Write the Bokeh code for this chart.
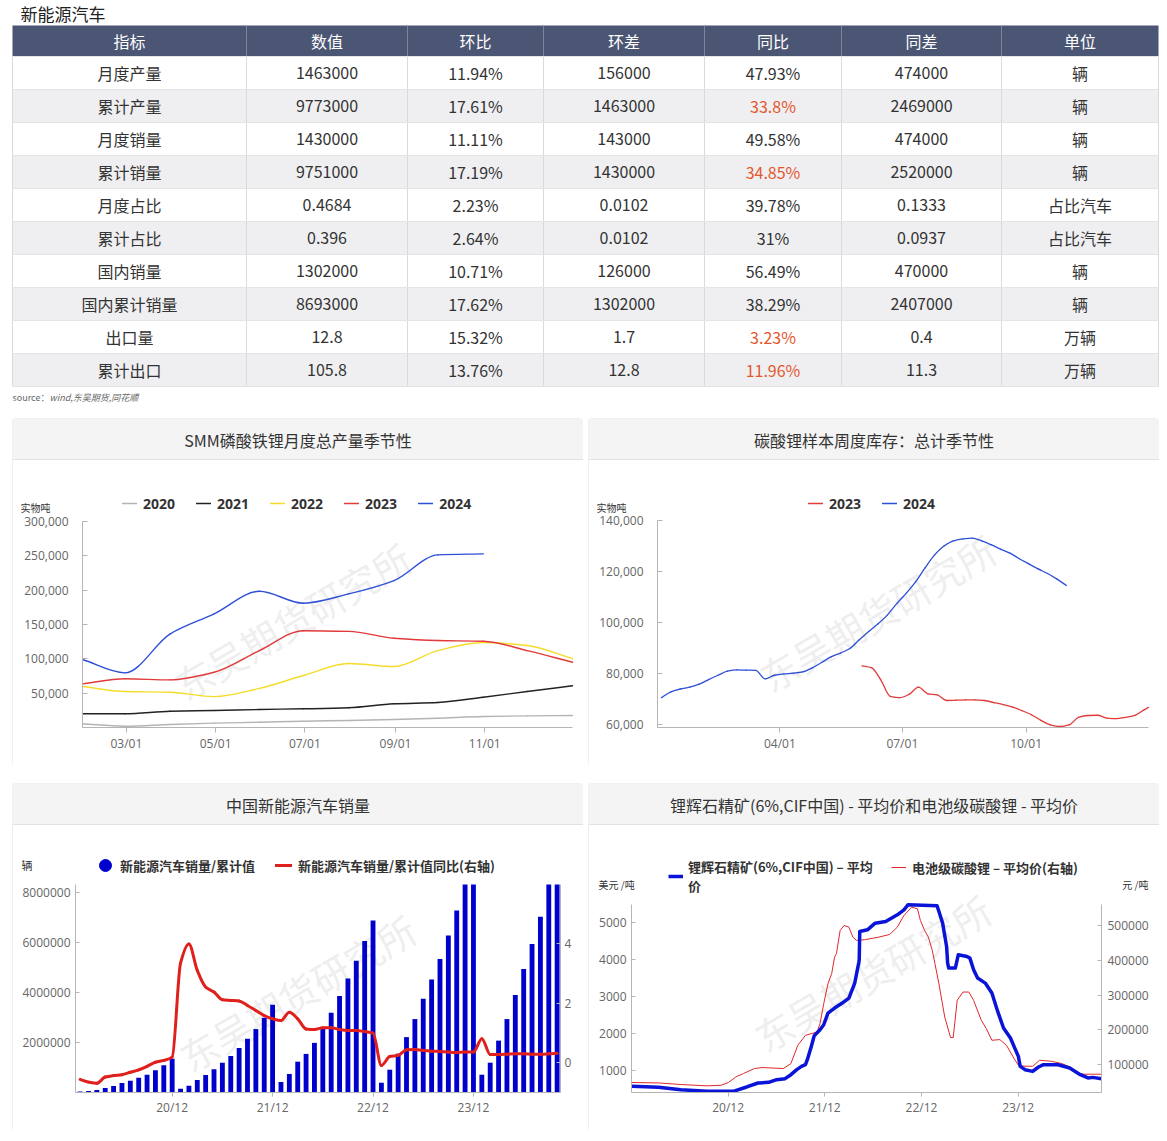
import numpy as np
import pandas as pd
from bokeh.plotting import figure
from bokeh.models import (Range1d, LinearAxis, FixedTicker, DatetimeTickFormatter,
                          NumeralTickFormatter, Legend, LegendItem, Spacer)
from bokeh.layouts import column, row
from bokeh.core.properties import value
from bokeh.embed import file_html
from bokeh.resources import INLINE

CJK = "Noto Sans CJK SC"
NUM = "Open Sans"

# ======================= DATA =======================
page_title = "新能源汽车"
table_headers = ["指标", "数值", "环比", "环差", "同比", "同差", "单位"]
row_names = ["月度产量", "累计产量", "月度销量", "累计销量", "月度占比", "累计占比",
             "国内销量", "国内累计销量", "出口量", "累计出口"]
col_value = ["1463000", "9773000", "1430000", "9751000", "0.4684", "0.396",
             "1302000", "8693000", "12.8", "105.8"]
col_mom = ["11.94%", "17.61%", "11.11%", "17.19%", "2.23%", "2.64%",
           "10.71%", "17.62%", "15.32%", "13.76%"]
col_mom_diff = ["156000", "1463000", "143000", "1430000", "0.0102", "0.0102",
                "126000", "1302000", "1.7", "12.8"]
col_yoy = ["47.93%", "33.8%", "49.58%", "34.85%", "39.78%", "31%",
           "56.49%", "38.29%", "3.23%", "11.96%"]
col_yoy_diff = ["474000", "2469000", "474000", "2520000", "0.1333", "0.0937",
                "470000", "2407000", "0.4", "11.3"]
col_unit = ["辆", "辆", "辆", "辆", "占比汽车", "占比汽车", "辆", "辆", "万辆", "万辆"]
yoy_flagged = [False, True, False, True, False, False, False, False, True, True]
source_label = "source："
source_names = "wind,东吴期货,同花顺"

# Chart 1: SMM LFP monthly production (t), seasonal
smm_title = "SMM磷酸铁锂月度总产量季节性"
smm_unit = "实物吨"
smm_month_end = ["01-31", "02-29", "03-31", "04-30", "05-31", "06-30",
                 "07-31", "08-31", "09-30", "10-31", "11-30", "12-31"]
smm_years = ["2020", "2021", "2022", "2023", "2024"]
smm_2020 = [5400, 1900, 4400, 6300, 7700, 9200, 10200, 11600, 13500, 16000, 17000, 17500]
smm_2021 = [20000, 20000, 23700, 24700, 26200, 27200, 28700, 34500, 36400, 44100, 52400, 60700]
smm_2022 = [59700, 52400, 51400, 45000, 57000, 75700, 93200, 88800, 112000, 123700, 119400, 100400]
smm_2023 = [63600, 70900, 69400, 80500, 112000, 141000, 140000, 130000, 126600, 125600, 112000, 95000]
smm_2024 = [99000, 79600, 136400, 165500, 198400, 181000, 194600, 214000, 251400, 252800]
smm_yticks = [50000, 100000, 150000, 200000, 250000, 300000]
smm_ticks = ["03-01", "05-01", "07-01", "09-01", "11-01"]

# Chart 2: Li2CO3 weekly sample inventory (t), seasonal
inv_title = "碳酸锂样本周度库存：总计季节性"
inv_unit = "实物吨"
inv_years = ["2023", "2024"]
inv_2024_dates = ["01-04", "01-11", "01-18", "01-25", "02-01", "02-08", "02-15", "02-22", "02-29",
                  "03-07", "03-14", "03-21", "03-28", "04-04", "04-11", "04-18", "04-25", "05-02",
                  "05-09", "05-16", "05-23", "05-30", "06-06", "06-13", "06-20", "06-27", "07-04",
                  "07-11", "07-18", "07-25", "08-01", "08-08", "08-15", "08-22", "08-29", "09-05",
                  "09-12", "09-19", "09-26", "10-03", "10-10", "10-17", "10-24", "10-31"]
inv_2024 = [70500, 72800, 73900, 74600, 75800, 77600, 79300, 80900, 81400, 81300, 81200, 77900,
            79300, 79800, 80100, 80600, 82200, 84300, 86500, 88000, 89800, 93200, 96500, 99500,
            103000, 107500, 111500, 116000, 121500, 126500, 130000, 132000, 132800, 133100,
            132000, 130500, 128800, 127200, 125000, 123000, 121000, 119200, 117000, 114500]
inv_2023_dates = ["06-01", "06-08", "06-15", "06-22", "06-29", "07-06", "07-13", "07-20", "07-27",
                  "08-03", "08-10", "08-17", "08-24", "08-31", "09-07", "09-14", "09-21", "09-28",
                  "10-05", "10-12", "10-19", "10-26", "11-02", "11-09", "11-16", "11-23", "11-30",
                  "12-07", "12-14", "12-21", "12-28", "12-31"]
inv_2023 = [83000, 82300, 77500, 71000, 70500, 71800, 74600, 72000, 71600, 69400, 69500, 69600,
            69600, 69400, 68600, 67800, 66800, 65400, 63800, 61600, 59800, 59200, 59800, 62800,
            63500, 63600, 62500, 62300, 62800, 63600, 65800, 66700]
inv_yticks = [60000, 80000, 100000, 120000, 140000]
inv_ticks = ["04-01", "07-01", "10-01"]

# Chart 3: China NEV sales, cumulative (vehicles) and cumulative YoY (right axis)
nev_title = "中国新能源汽车销量"
nev_unit = "辆"
nev_first_month = "2020-01"
nev_cum_sales = [40000, 60000, 100000, 180000, 260000, 380000, 470000, 590000, 710000, 890000, 1090000, 1350000,
                 150000, 270000, 500000, 700000, 930000, 1190000, 1460000, 1780000, 2140000, 2530000, 2980000, 3500000,
                 420000, 740000, 1230000, 1540000, 1980000, 2580000, 3180000, 3850000, 4550000, 5260000, 6050000, 6860000,
                 390000, 910000, 1550000, 2210000, 2930000, 3740000, 4510000, 5330000, 6260000, 7260000, 8300000, 9490000,
                 710000, 1190000, 2070000, 2930000, 3890000, 4930000, 5930000, 7010000, 8320000, 9750000]
nev_cum_yoy = [-0.56, -0.65, -0.69, -0.48, -0.43, -0.40, -0.32, -0.24, -0.12, 0.02, 0.08, 0.19,
               3.35, 4.00, 3.11, 2.55, 2.38, 2.12, 2.10, 2.08, 1.93, 1.76, 1.59, 1.48,
               1.42, 1.70, 1.48, 1.14, 1.12, 1.18, 1.18, 1.12, 1.09, 1.09, 1.05, 1.00,
               -0.09, 0.21, 0.25, 0.44, 0.45, 0.41, 0.39, 0.38, 0.36, 0.35, 0.36, 0.36,
               0.81, 0.28, 0.28, 0.29, 0.30, 0.30, 0.29, 0.29, 0.30, 0.32]
nev_yticks = [2000000, 4000000, 6000000, 8000000]
nev_yoy_ticks = [0, 2, 4]
nev_tick_months = ["2020-12", "2021-12", "2022-12", "2023-12"]
nev_tick_labels = ["20/12", "21/12", "22/12", "23/12"]
nev_series = ["新能源汽车销量/累计值", "新能源汽车销量/累计值同比(右轴)"]

# Chart 4: spodumene (USD/t, left) and battery-grade Li2CO3 (CNY/t, right)
px_title = "锂辉石精矿(6%,CIF中国) - 平均价和电池级碳酸锂 - 平均价"
px_unit_left = "美元 /吨"
px_unit_right = "元 /吨"
px_series = ["锂辉石精矿(6%,CIF中国) – 平均\n价", "电池级碳酸锂 – 平均价(右轴)"]
spod_dates = ["2020-01-02", "2020-04-12", "2020-07-05", "2020-10-12", "2021-01-19", "2021-03-11",
              "2021-04-23", "2021-06-02", "2021-07-02", "2021-08-03", "2021-08-25", "2021-09-16",
              "2021-10-04", "2021-10-19", "2021-10-26", "2021-11-10", "2021-11-21", "2021-12-13",
              "2021-12-27", "2022-01-12", "2022-02-06", "2022-03-07", "2022-04-01", "2022-04-23",
              "2022-05-08", "2022-05-10", "2022-05-12", "2022-06-10", "2022-07-09", "2022-08-18",
              "2022-10-01", "2022-10-26", "2022-11-10", "2023-02-28", "2023-03-07", "2023-03-21",
              "2023-04-05", "2023-04-09", "2023-04-13", "2023-05-08", "2023-05-19", "2023-06-21",
              "2023-07-02", "2023-07-16", "2023-07-31", "2023-08-29", "2023-09-23", "2023-10-15",
              "2023-11-06", "2023-12-02", "2024-01-01", "2024-01-08", "2024-01-26", "2024-02-24",
              "2024-03-17", "2024-04-05", "2024-05-30", "2024-07-13", "2024-08-22", "2024-09-20",
              "2024-10-08", "2024-11-10"]
spod_usd = [567, 545, 477, 431, 431, 550, 658, 675, 748, 775, 883, 1019, 1108, 1154, 1290, 1650,
            1940, 2103, 2238, 2555, 2690, 2827, 2962, 3368, 3911, 4000, 4767, 4813, 4994, 5038,
            5220, 5355, 5490, 5463, 5309, 4994, 4360, 3911, 3775, 3775, 4136, 4090, 4046, 3729,
            3504, 3368, 3097, 2599, 2149, 1878, 1379, 1108, 1019, 973, 1092, 1154, 1154, 1065,
            883, 794, 810, 775]
li_dates = ["2020-01-02", "2020-04-12", "2020-07-05", "2020-10-12", "2020-12-05", "2021-01-01",
            "2021-01-29", "2021-02-27", "2021-04-09", "2021-05-08", "2021-07-27", "2021-08-25",
            "2021-09-20", "2021-10-19", "2021-12-02", "2021-12-13", "2021-12-27", "2022-01-12",
            "2022-01-26", "2022-02-06", "2022-02-13", "2022-02-27", "2022-03-14", "2022-04-01",
            "2022-04-16", "2022-04-30", "2022-05-30", "2022-07-23", "2022-09-02", "2022-10-01",
            "2022-10-26", "2022-11-24", "2022-12-16", "2022-12-27", "2023-01-12", "2023-01-26",
            "2023-02-10", "2023-02-20", "2023-03-07", "2023-03-29", "2023-04-20", "2023-04-30",
            "2023-05-15", "2023-06-06", "2023-06-28", "2023-07-16", "2023-08-14", "2023-09-02",
            "2023-09-23", "2023-10-23", "2023-11-17", "2023-12-16", "2024-01-01", "2024-01-26",
            "2024-02-24", "2024-03-21", "2024-05-04", "2024-06-13", "2024-07-13", "2024-08-14",
            "2024-09-05", "2024-10-08", "2024-11-10"]
li_cny = [48700, 47500, 43000, 39000, 41000, 48700, 64700, 74500, 88800, 91700, 88800, 103000,
          155700, 184300, 193800, 217900, 275300, 332600, 361300, 408900, 418700, 485500, 499800,
          495000, 466300, 456800, 458800, 466300, 474000, 495000, 528500, 552300, 547700, 514200,
          485500, 466300, 428100, 390000, 332600, 236800, 177700, 177700, 284700, 308500, 308500,
          284700, 227400, 203600, 170000, 172000, 155700, 117500, 98300, 95400, 95400, 112600,
          109800, 103200, 93400, 74500, 72500, 72500, 72500]
px_yticks = [1000, 2000, 3000, 4000, 5000]
px_cny_ticks = [100000, 200000, 300000, 400000, 500000]
px_ticks = ["2020-12-31", "2021-12-31", "2022-12-31", "2023-12-31"]

watermark = "东吴期货研究所"

# ======================= HELPERS =======================
EPOCH = pd.Timestamp("1970-01-01")


def ms(strs):
    return np.asarray((pd.to_datetime(list(strs)) - EPOCH) / pd.Timedelta(milliseconds=1), dtype=float)


def ms1(s):
    return float((pd.Timestamp(s) - EPOCH) / pd.Timedelta(milliseconds=1))


def smooth(p, xs, ys, **kw):
    """Monotone cubic curve through the data points, drawn with Bokeh's bezier glyph."""
    xs = np.asarray(xs, dtype=float)
    ys = np.asarray(ys, dtype=float)
    h = np.diff(xs)
    d = np.diff(ys) / h
    n = len(xs)
    m = np.empty(n)
    m[0], m[-1] = d[0], d[-1]
    for i in range(1, n - 1):
        if d[i - 1] * d[i] <= 0:
            m[i] = 0.0
        else:
            w1 = 2 * h[i] + h[i - 1]
            w2 = h[i] + 2 * h[i - 1]
            m[i] = (w1 + w2) / (w1 / d[i - 1] + w2 / d[i])
    return p.bezier(x0=xs[:-1], y0=ys[:-1], x1=xs[1:], y1=ys[1:],
                    cx0=xs[:-1] + h / 3, cy0=ys[:-1] + m[:-1] * h / 3,
                    cx1=xs[1:] - h / 3, cy1=ys[1:] - m[1:] * h / 3, **kw)


def style_axis(ax, tick_in=0, tick_out=5, standoff=5, color="#b5b5b5"):
    ax.axis_line_color = color
    ax.major_tick_line_color = color
    ax.major_tick_in = tick_in
    ax.major_tick_out = tick_out
    ax.minor_tick_line_color = None
    ax.major_label_standoff = standoff
    ax.major_label_text_font = NUM
    ax.major_label_text_font_size = "12px"
    ax.major_label_text_color = "#666666"


def date_fmt(f):
    return DatetimeTickFormatter(days=f, months=f, years=f, hours=f, hourmin=f, minutes=f,
                                 minsec=f, seconds=f, milliseconds=f, microseconds=f)


PW, PH = 571, 349   # panel size in pixels
PX = dict(x_range_name="px", y_range_name="px")


def ext(d0, d1, p0, p1, total):
    """Range whose values d0..d1 fall on pixels p0..p1 of a frame `total` px long."""
    s = (d1 - d0) / (p1 - p0)
    return Range1d(d0 - p0 * s, d1 + (total - p1) * s)


def make_panel(title, box, xr, yr, x_type="linear", extra_y=None):
    """One figure per panel; `box` = data area (left, top, right, bottom) in panel pixels."""
    L, T, R, B = box
    p = figure(width=PW, height=PH, x_axis_type=x_type,
               x_range=ext(xr[0], xr[1], L, R, PW), y_range=ext(yr[0], yr[1], PH - B, PH - T, PH),
               toolbar_location=None, output_backend="svg", min_border=0,
               outline_line_color=None, background_fill_color="white", border_fill_color="white",
               styles={"outline": "1px solid #dedede", "outline-offset": "-1px",
                       "border-radius": "4px"})
    p.xgrid.visible = False
    p.ygrid.visible = False
    p.extra_x_ranges = {"px": Range1d(0, PW)}
    eyr = {"px": Range1d(PH, 0)}
    for name, (a, b) in (extra_y or {}).items():
        eyr[name] = ext(a, b, PH - B, PH - T, PH)
    p.extra_y_ranges = eyr
    # header bar
    p.quad(left=[0], right=[PW], top=[0], bottom=[41], fill_color="#f4f4f4", line_color=None, **PX)
    p.segment(x0=[0], y0=[41], x1=[PW], y1=[41], line_color="#e2e2e2", line_width=1, **PX)
    p.text(x=[PW / 2], y=[21], text=[title], text_align="center", text_baseline="middle",
           text_font=value(CJK), text_font_size="16px", text_color="#333333", **PX)
    # axes pinned to the data area
    xa, ya = p.xaxis[0], p.yaxis[0]
    xa.fixed_location = yr[0]
    xa.bounds = (xr[0], xr[1])
    ya.fixed_location = xr[0]
    ya.bounds = (yr[0], yr[1])
    return p


def px_text(p, x, y, text, align="left", size="10px"):
    p.text(x=[x], y=[y], text=[text], text_align=align, text_baseline="middle",
           text_font=value(CJK), text_font_size=size, text_color="#333333", **PX)


def add_watermark(p, x, y):
    p.text(x=[x], y=[y], text=[watermark], angle=0.53, text_align="center",
           text_baseline="middle", text_font=value(CJK), text_font_size="38px",
           text_color="#cfcfcf", text_alpha=0.36, **PX)


def legend(items, loc, **kw):
    opts = dict(orientation="horizontal", location=loc, padding=0, margin=0, spacing=20,
                glyph_width=15, glyph_height=20, label_height=20, label_standoff=6,
                border_line_color=None, background_fill_alpha=0, label_text_color="#333333",
                label_text_font_style="bold", label_text_font_size="13px",
                label_text_font=CJK, inactive_fill_alpha=0)
    opts.update(kw)
    return Legend(items=items, **opts)


# ======================= TOP: TITLE + TABLE =======================
TOP_W, TOP_H = 1160, 418
top = figure(width=TOP_W, height=TOP_H, x_range=Range1d(0, TOP_W), y_range=Range1d(TOP_H, 0),
             toolbar_location=None, output_backend="svg", min_border=0,
             x_axis_location=None, y_axis_location=None, outline_line_color=None,
             background_fill_color="white", border_fill_color="white")
top.grid.visible = False

col_edges = [12, 246, 407, 543, 704, 841, 1001, 1158]
col_centers = [(a + b) / 2 for a, b in zip(col_edges[:-1], col_edges[1:])]
hdr_top, hdr_bot, row_h = 25, 56, 33
n_rows = len(row_names)
row_edges = [hdr_bot + row_h * i for i in range(n_rows + 1)]
row_cy = [hdr_bot + row_h * (i + 0.5) for i in range(n_rows)]
tbl_cx, tbl_w = (col_edges[0] + col_edges[-1]) / 2, col_edges[-1] - col_edges[0]

top.text(x=[20], y=[13], text=[page_title], text_align="left", text_baseline="middle",
         text_font=value(CJK), text_font_size="17px", text_color="#222222")
top.rect(x=[tbl_cx], y=[(hdr_top + hdr_bot) / 2], width=tbl_w, height=hdr_bot - hdr_top,
         fill_color="#4b5574", line_color=None)
top.rect(x=[tbl_cx] * n_rows, y=row_cy, width=tbl_w, height=row_h,
         fill_color=["#ffffff" if i % 2 == 0 else "#efeff1" for i in range(n_rows)],
         line_color=None)
top.segment(x0=col_edges[1:-1], y0=[hdr_top] * 6, x1=col_edges[1:-1], y1=[hdr_bot] * 6,
            line_color="#7d869c", line_width=1)
top.segment(x0=col_edges, y0=[hdr_bot] * len(col_edges), x1=col_edges,
            y1=[row_edges[-1]] * len(col_edges), line_color="#dadada", line_width=1)
top.segment(x0=[col_edges[0]] * len(row_edges), y0=row_edges, x1=[col_edges[-1]] * len(row_edges),
            y1=row_edges, line_color="#e4e4e4", line_width=1)
top.text(x=col_centers, y=[(hdr_top + hdr_bot) / 2] * 7, text=table_headers, text_align="center",
         text_baseline="middle", text_font=value(CJK), text_font_size="16px", text_color="#ffffff")
table_cols = [row_names, col_value, col_mom, col_mom_diff, col_yoy, col_yoy_diff, col_unit]
tx, ty, tt, tc = [], [], [], []
for j, colvals in enumerate(table_cols):
    for i, t in enumerate(colvals):
        tx.append(col_centers[j])
        ty.append(row_cy[i])
        tt.append(t)
        tc.append("#e4572e" if (j == 4 and yoy_flagged[i]) else "#333333")
top.text(x=tx, y=ty, text=tt, text_color=tc, text_align="center", text_baseline="middle",
         text_font=value(CJK), text_font_size="16px")
top.text(x=[12], y=[397], text=[source_label], text_align="left", text_baseline="middle",
         text_font=value(CJK), text_font_size="9px", text_color="#666666")
top.text(x=[49], y=[397], text=[source_names], text_align="left", text_baseline="middle",
         text_font=value(CJK), text_font_size="9px", text_font_style="italic", text_color="#666666")

# ======================= CHART 1 =======================
smm_colors = ["#b4b4b4", "#222222", "#f5dc2a", "#e23a3a", "#2f4fd6"]
smm_data = [smm_2020, smm_2021, smm_2022, smm_2023, smm_2024]
smm_x = ms(["2024-" + d for d in smm_month_end])
p1 = make_panel(smm_title, (70, 103, 560, 309), (smm_x[0], smm_x[-1]), (0, 300000), "datetime")
add_watermark(p1, 280, 202)
px_text(p1, 8, 89, smm_unit)
items = []
for yr, vals, c in zip(smm_years, smm_data, smm_colors):
    r = smooth(p1, smm_x[:len(vals)], vals, line_color=c, line_width=1.4, line_cap="round")
    items.append(LegendItem(label=yr, renderers=[r]))
p1.add_layout(legend(items, (110, 254), label_text_font=NUM, label_text_font_size="14px",
                     spacing=21))
p1.yaxis[0].ticker = FixedTicker(ticks=smm_yticks)
p1.yaxis[0].formatter = NumeralTickFormatter(format="0,0")
style_axis(p1.yaxis[0], tick_in=5, tick_out=0, standoff=14)
p1.xaxis[0].ticker = FixedTicker(ticks=list(ms(["2024-" + d for d in smm_ticks])))
p1.xaxis[0].formatter = date_fmt("%m/%d")
style_axis(p1.xaxis[0], tick_out=5, standoff=2)

# ======================= CHART 2 =======================
x2a, x2b = ms1("2024-01-01"), ms1("2024-12-31")
p2 = make_panel(inv_title, (69, 102, 560, 309), (x2a, x2b), (58800, 140000), "datetime")
add_watermark(p2, 289, 194)
px_text(p2, 8, 89, inv_unit)
inv_colors = ["#e23a3a", "#2f4fd6"]
items = []
for yr, dts, vals, c in zip(inv_years, [inv_2023_dates, inv_2024_dates], [inv_2023, inv_2024],
                            inv_colors):
    r = smooth(p2, ms(["2024-" + d for d in dts]), vals, line_color=c, line_width=1.3,
               line_cap="round")
    items.append(LegendItem(label=yr, renderers=[r]))
p2.add_layout(legend(items, (220, 254), label_text_font=NUM, label_text_font_size="14px",
                     spacing=21))
p2.yaxis[0].ticker = FixedTicker(ticks=inv_yticks)
p2.yaxis[0].formatter = NumeralTickFormatter(format="0,0")
style_axis(p2.yaxis[0], tick_in=5, tick_out=0, standoff=14)
p2.xaxis[0].ticker = FixedTicker(ticks=list(ms(["2024-" + d for d in inv_ticks])))
p2.xaxis[0].formatter = date_fmt("%m/%d")
style_axis(p2.xaxis[0], tick_out=5, standoff=2)

# ======================= CHART 3 =======================
nev_idx = np.arange(len(nev_cum_sales))
month0 = pd.Period(nev_first_month, freq="M")
nev_tick_idx = [int((pd.Period(m, freq="M") - month0).n) for m in nev_tick_months]
bar_color, yoy_color = "#0000cd", "#e0201c"
x3 = (-0.55, 57.4)
y3 = (0, 8300000)
yoy3 = (-1, 6)
p3 = make_panel(nev_title, (63, 101, 548, 309), x3, y3, extra_y={"yoy": yoy3})
add_watermark(p3, 285, 209)
px_text(p3, 9, 81, nev_unit, size="11px")
# bars are cut at the top of the value axis, as in the source chart
bar_top = np.minimum(nev_cum_sales, y3[1])
p3.vbar(x=nev_idx, top=bar_top, bottom=0, width=0.58, fill_color=bar_color, line_color=None)
rl = smooth(p3, nev_idx, nev_cum_yoy, line_color=yoy_color, line_width=3, line_cap="round",
            y_range_name="yoy")
# round legend key for the bar series (hidden marker renderer on the same values)
key_bar = p3.scatter(x=nev_idx, y=bar_top, marker="circle", size=12, fill_color=bar_color,
                     line_color=bar_color, visible=False)
p3.add_layout(legend([LegendItem(label=nev_series[0], renderers=[key_bar])], (78, 252),
                     glyph_width=30, glyph_height=30, label_height=30, label_standoff=0))
p3.add_layout(legend([LegendItem(label=nev_series[1], renderers=[rl])], (263, 257),
                     glyph_width=17, label_standoff=6))
p3.yaxis[0].ticker = FixedTicker(ticks=nev_yticks)
p3.yaxis[0].formatter = NumeralTickFormatter(format="0")
style_axis(p3.yaxis[0], tick_in=4, tick_out=0, standoff=5)
ax_r3 = LinearAxis(y_range_name="yoy", ticker=FixedTicker(ticks=nev_yoy_ticks),
                   fixed_location=x3[1], bounds=yoy3)
style_axis(ax_r3, tick_in=4, tick_out=0, standoff=4)
p3.add_layout(ax_r3, "right")
p3.xaxis[0].ticker = FixedTicker(ticks=nev_tick_idx)
p3.xaxis[0].major_label_overrides = dict(zip(nev_tick_idx, nev_tick_labels))
style_axis(p3.xaxis[0], tick_out=4, standoff=2)

# ======================= CHART 4 =======================
x4 = (ms1("2020-01-01"), ms1("2024-11-10"))
y4 = (400, 5500)
cny4 = (20000, 560000)
spod_color, li_color = "#0a14d8", "#e0282c"
p4 = make_panel(px_title, (43, 121, 513, 309), x4, y4, "datetime", extra_y={"cny": cny4})
add_watermark(p4, 284, 189)
px_text(p4, 10, 101, px_unit_left)
px_text(p4, 560, 101, px_unit_right, align="right")
rr = p4.line(ms(li_dates), li_cny, line_color=li_color, line_width=1, y_range_name="cny")
rb = p4.line(ms(spod_dates), spod_usd, line_color=spod_color, line_width=3.5, line_join="round")
p4.add_layout(legend([LegendItem(label=px_series[0], renderers=[rb])], (80, 237),
                     glyph_width=15, label_standoff=5, label_height=16))
p4.add_layout(legend([LegendItem(label=px_series[1], renderers=[rr])], (303, 255),
                     glyph_width=15, label_standoff=6))
p4.yaxis[0].ticker = FixedTicker(ticks=px_yticks)
p4.yaxis[0].formatter = NumeralTickFormatter(format="0")
style_axis(p4.yaxis[0], tick_in=4, tick_out=0, standoff=5)
ax_r4 = LinearAxis(y_range_name="cny", ticker=FixedTicker(ticks=px_cny_ticks),
                   formatter=NumeralTickFormatter(format="0"), fixed_location=x4[1], bounds=cny4)
style_axis(ax_r4, tick_in=4, tick_out=0, standoff=6)
p4.add_layout(ax_r4, "right")
p4.xaxis[0].ticker = FixedTicker(ticks=list(ms(px_ticks)))
p4.xaxis[0].formatter = date_fmt("%y/%m")
style_axis(p4.xaxis[0], tick_out=4, standoff=2)

# ======================= LAYOUT =======================
layout = column(
    top,
    row(Spacer(width=12), p1, Spacer(width=5), p2, spacing=0),
    Spacer(height=16),
    row(Spacer(width=12), p3, Spacer(width=5), p4, spacing=0),
    spacing=0,
)

with open("out.html", "w", encoding="utf-8") as f:
    f.write(file_html(layout, INLINE))
